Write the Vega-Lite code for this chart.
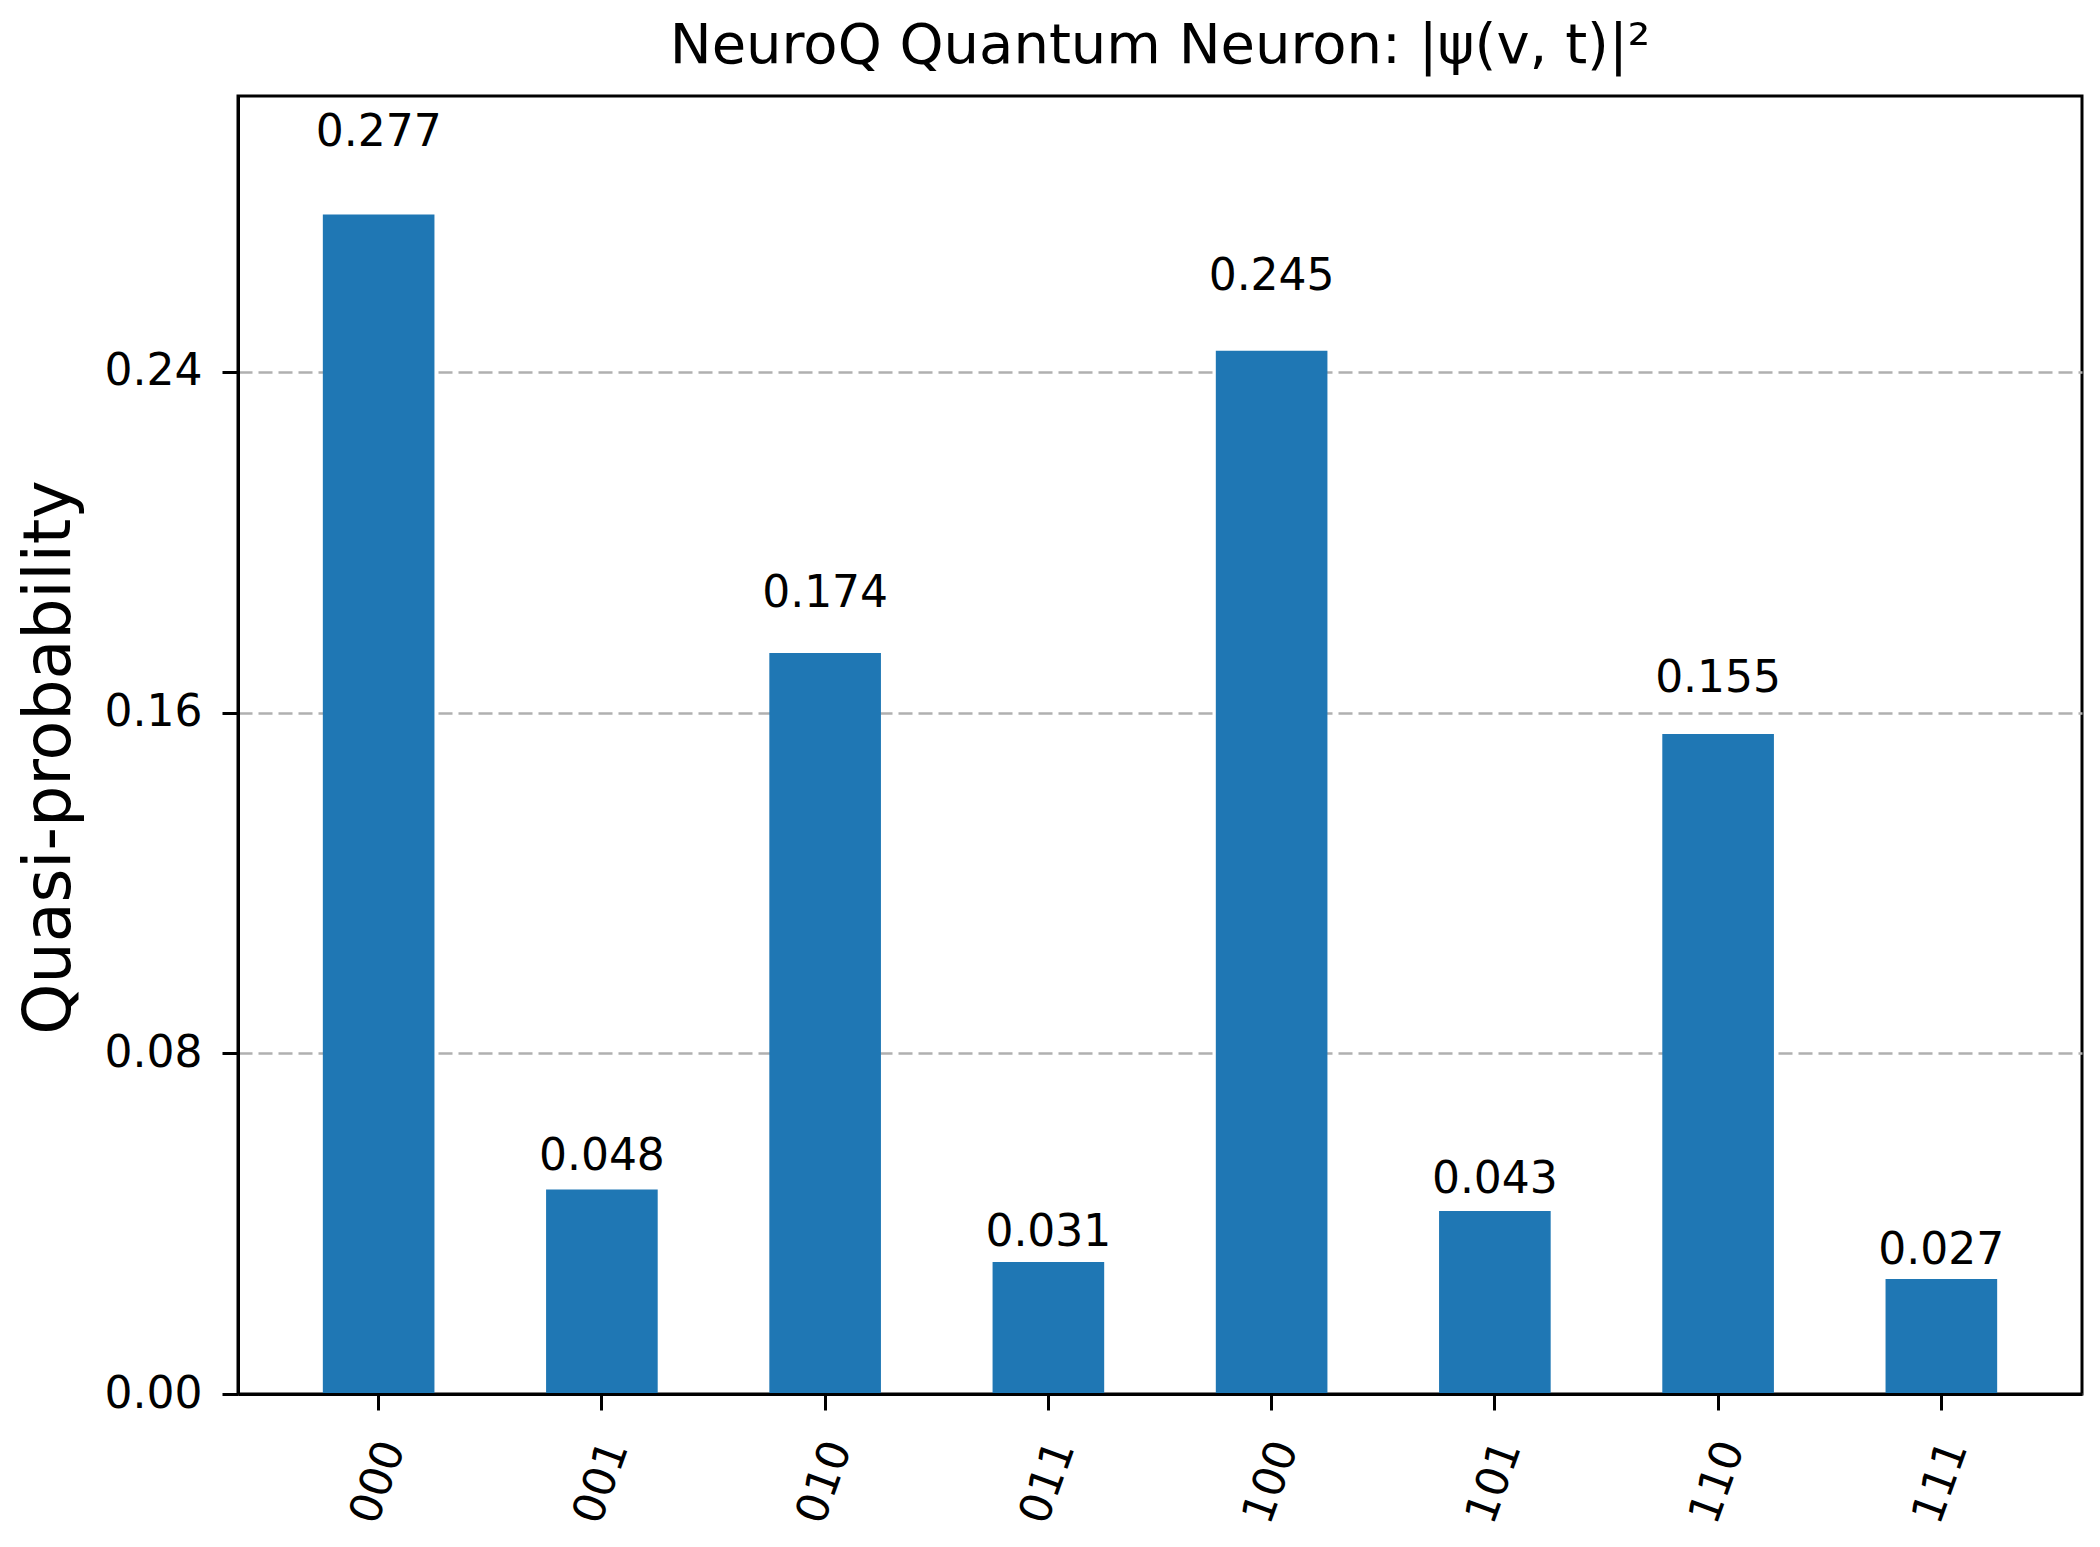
{
  "$schema": "https://vega.github.io/schema/vega-lite/v6.json",
  "autosize": {"type": "none"},
  "padding": {"left": 238, "top": 96, "right": 18, "bottom": 153},
  "width": 1844,
  "height": 1298,
  "background": "white",
  "title": {
    "text": "NeuroQ Quantum Neuron: |ψ(v, t)|²",
    "font": "DejaVu Sans",
    "fontSize": 56,
    "fontWeight": "normal",
    "color": "black",
    "anchor": "middle",
    "frame": "group",
    "baseline": "alphabetic",
    "offset": 31,
    "dy": 54
  },
  "data": {
    "values": [
      {"state": "000", "p": 0.277},
      {"state": "001", "p": 0.048},
      {"state": "010", "p": 0.174},
      {"state": "011", "p": 0.031},
      {"state": "100", "p": 0.245},
      {"state": "101", "p": 0.043},
      {"state": "110", "p": 0.155},
      {"state": "111", "p": 0.027}
    ]
  },
  "layer": [
    {
      "mark": {"type": "bar", "color": "#1f77b4"},
      "encoding": {
        "x": {
          "field": "state",
          "type": "ordinal",
          "sort": null,
          "scale": {"paddingInner": 0.5, "paddingOuter": 0.38},
          "axis": {
            "title": null,
            "labelFont": "DejaVu Sans",
            "labelFontSize": 44,
            "labelColor": "black",
            "labelAngle": 290,
            "labelAlign": "center",
            "labelBaseline": "middle",
            "labelPadding": 72,
            "tickSize": 16,
            "tickWidth": 3,
            "tickColor": "black",
            "domainColor": "black",
            "domainWidth": 3,
            "grid": false,
            "zindex": 1
          }
        },
        "y": {
          "field": "p",
          "type": "quantitative",
          "scale": {"domain": [0, 0.3048], "nice": false, "zero": true},
          "axis": {
            "title": "Quasi-probability",
            "titleFont": "DejaVu Sans",
            "titleFontSize": 65,
            "titleFontWeight": "normal",
            "titleColor": "black",
            "titlePadding": 21,
            "titleY": 661,
            "values": [0, 0.08, 0.16, 0.24],
            "format": ".2f",
            "labelFont": "DejaVu Sans",
            "labelFontSize": 44,
            "labelColor": "black",
            "labelPadding": 20,
            "tickSize": 16,
            "tickWidth": 3,
            "tickColor": "black",
            "domainColor": "black",
            "domainWidth": 3,
            "grid": true,
            "gridColor": "#b0b0b0",
            "gridWidth": 2.5,
            "gridDash": [14, 6],
            "zindex": 0
          }
        }
      }
    },
    {
      "mark": {
        "type": "text",
        "font": "DejaVu Sans",
        "fontSize": 44,
        "color": "black",
        "align": "center",
        "baseline": "bottom"
      },
      "encoding": {
        "x": {"field": "state", "type": "ordinal", "sort": null},
        "y": {
          "field": "p",
          "type": "quantitative",
          "scale": {"domain": [0, 0.29029], "nice": false, "zero": true},
          "axis": null
        },
        "text": {"field": "p", "type": "quantitative", "format": ".3f"}
      }
    }
  ],
  "resolve": {"scale": {"y": "independent"}},
  "config": {
    "view": {"stroke": "black", "strokeWidth": 3}
  }
}
